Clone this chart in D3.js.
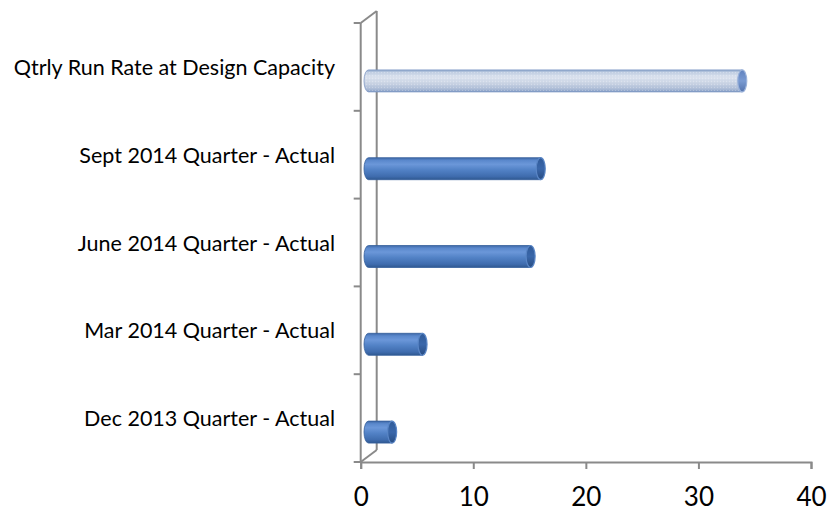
<!DOCTYPE html>
<html>
<head>
<meta charset="utf-8">
<script src="https://cdn.jsdelivr.net/npm/d3@7"></script>
<style>
  html, body { margin: 0; padding: 0; background: #ffffff; }
  svg { display: block; }
  text { font-family: Lato, "Open Sans", "DejaVu Sans", sans-serif; fill: #000; }
</style>
</head>
<body>
<svg id="chart" width="827" height="513"></svg>
<script>
// Categories, bottom to top as shown on the category axis
const categories = [
  "Dec 2013 Quarter - Actual",
  "Mar 2014 Quarter - Actual",
  "June 2014 Quarter - Actual",
  "Sept 2014 Quarter - Actual",
  "Qtrly Run Rate at Design Capacity"
];
const values = [2.1, 4.8, 14.4, 15.3, 33.2];
const isTarget = [false, false, false, false, true];
const xTicks = [0, 10, 20, 30, 40];

const svg = d3.select("#chart");

// Front plane of the 3-D box
const plotLeft = 360.7, plotRight = 811, plotTop = 23, plotBottom = 462;
// Depth offset of the back wall
const depthX = 16, depthY = -12;

const x = d3.scaleLinear().domain([0, 40]).range([plotLeft, plotRight]);
// Bars sit half way into the depth of the box
const xBar = d3.scaleLinear().domain([0, 40]).range([plotLeft + 7.8, plotRight + 7.8]);
const y = d3.scaleBand()
  .domain(categories.slice().reverse())
  .range([plotTop, plotBottom])
  .paddingInner(0).paddingOuter(0);

const defs = svg.append("defs");

function cylGradient(id, stops) {
  const g = defs.append("linearGradient").attr("id", id)
    .attr("x1", 0).attr("y1", 0).attr("x2", 0).attr("y2", 1);
  stops.forEach(([o, c]) => g.append("stop").attr("offset", o).attr("stop-color", c));
}
cylGradient("blueBody", [
  [0, "#3d67a6"], [0.12, "#5a88cc"], [0.3, "#6b97d9"], [0.55, "#5282c6"],
  [0.85, "#3f6cae"], [1, "#2f5890"]
]);
cylGradient("paleBody", [
  [0, "#8ea7cc"], [0.12, "#c3d0e4"], [0.32, "#dce3ef"], [0.6, "#ccd5e5"],
  [0.88, "#abbbd6"], [1, "#8099c3"]
]);
cylGradient("blueCap", [[0, "#2f5a98"], [0.5, "#3a67aa"], [1, "#274c82"]]);
cylGradient("paleCap", [[0, "#5f82bf"], [0.5, "#7a9bd2"], [1, "#5574ad"]]);

// Fine speckle texture on the design-capacity bar
const pat = defs.append("pattern").attr("id", "speckle")
  .attr("width", 3).attr("height", 3).attr("patternUnits", "userSpaceOnUse");
pat.append("rect").attr("x", 0).attr("y", 0).attr("width", 1).attr("height", 1)
  .attr("fill", "#ffffff").attr("opacity", 0.25);
pat.append("rect").attr("x", 1.5).attr("y", 1.5).attr("width", 1).attr("height", 1)
  .attr("fill", "#8da3c8").attr("opacity", 0.18);

const axisColor = "#8a8a8a";

// Back wall edge and the frame of the box
const frame = svg.append("g").attr("stroke", axisColor).attr("stroke-width", 2).attr("fill", "none");
frame.append("line")
  .attr("x1", plotLeft + depthX).attr("y1", plotTop + depthY)
  .attr("x2", plotLeft + depthX).attr("y2", plotBottom + depthY);
frame.append("line")
  .attr("x1", plotLeft).attr("y1", plotTop)
  .attr("x2", plotLeft + depthX).attr("y2", plotTop + depthY);
frame.append("line")
  .attr("x1", plotLeft).attr("y1", plotBottom)
  .attr("x2", plotLeft + depthX).attr("y2", plotBottom + depthY);

// Category axis (front edge) with ticks at band boundaries
frame.append("line")
  .attr("x1", plotLeft).attr("y1", plotTop)
  .attr("x2", plotLeft).attr("y2", plotBottom);
const boundaries = y.domain().map(d => y(d)).concat([plotBottom]);
frame.selectAll("line.ytick").data(boundaries).join("line").attr("class", "ytick")
  .attr("x1", plotLeft - 7).attr("x2", plotLeft)
  .attr("y1", d => d).attr("y2", d => d);

// Value axis along the front floor edge
const xAxis = d3.axisBottom(x).tickValues(xTicks).tickSize(7).tickPadding(20);
const gx = svg.append("g").attr("transform", `translate(0,${plotBottom})`).call(xAxis);
gx.select(".domain").attr("stroke", axisColor).attr("stroke-width", 2);
gx.selectAll(".tick line").attr("stroke", axisColor).attr("stroke-width", 2);
gx.selectAll(".tick text")
  .attr("font-size", 26).attr("fill", "#000")
  .attr("font-family", "Lato, 'Open Sans', sans-serif")
  .attr("dy", null).attr("y", 44);

// Category labels
svg.append("g").selectAll("text").data(categories).join("text")
  .attr("x", 335)
  .attr("y", d => y(d) + y.bandwidth() / 2 + 8)
  .attr("text-anchor", "end")
  .attr("font-size", 21.5)
  .text(d => d);

// Cylinder bars
const barH = 22, capRx = 4.5;
const bars = svg.append("g").selectAll("g").data(values.map((v, i) => ({ v, i, c: categories[i] }))).join("g");
bars.each(function (d) {
  const g = d3.select(this);
  const cy = y(d.c) + y.bandwidth() / 2 + 14;
  const x0 = xBar(0), x1 = xBar(d.v);
  const top = cy - barH / 2, bot = cy + barH / 2;
  const body = `M${x1},${top} L${x0},${top} A${capRx},${barH / 2} 0 0 0 ${x0},${bot} L${x1},${bot} Z`;
  const pale = isTarget[d.i];
  g.append("path").attr("d", body)
    .attr("fill", pale ? "url(#paleBody)" : "url(#blueBody)")
    .attr("stroke", pale ? "#7d97c4" : "#35609c").attr("stroke-width", 0.8);
  if (pale) g.append("path").attr("d", body).attr("fill", "url(#speckle)");
  g.append("ellipse").attr("cx", x1).attr("cy", cy).attr("rx", capRx).attr("ry", barH / 2)
    .attr("fill", pale ? "url(#paleCap)" : "url(#blueCap)")
    .attr("stroke", pale ? "#9ab2da" : "#5a86c6").attr("stroke-width", 1.2);
});
</script>
</body>
</html>
